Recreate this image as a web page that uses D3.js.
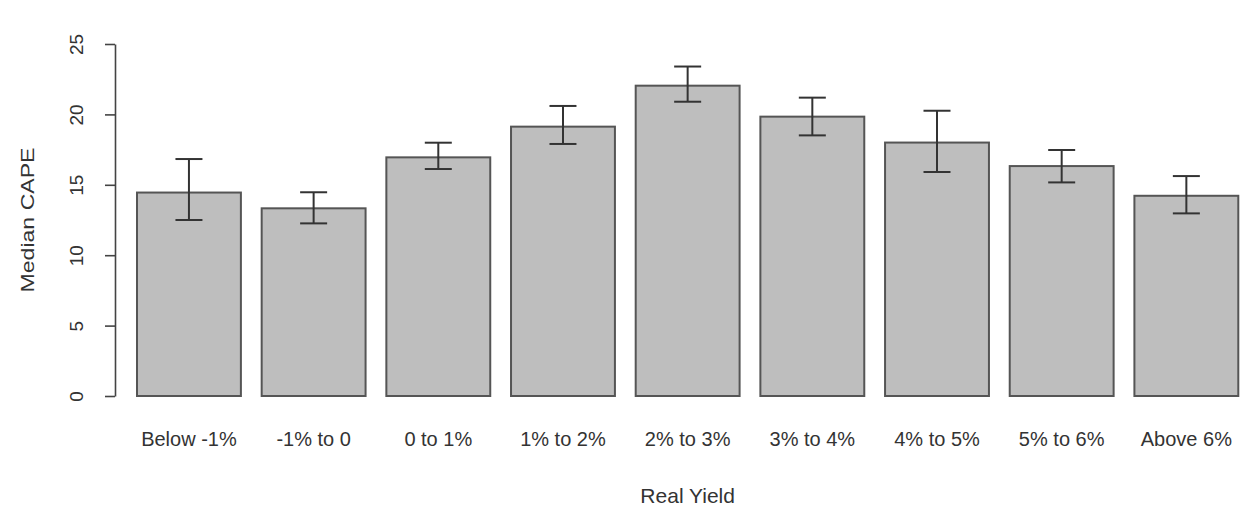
<!DOCTYPE html>
<html>
<head>
<meta charset="utf-8">
<script src="https://cdn.jsdelivr.net/npm/d3@7"></script>
<style>
  html, body { margin: 0; padding: 0; background: #fff; }
  svg { display: block; }
  text { font-family: "Liberation Sans", Arial, sans-serif; fill: #333; }
</style>
</head>
<body>
<svg id="chart" width="1251" height="516"></svg>
<script>
const categories = ["Below -1%", "-1% to 0", "0 to 1%", "1% to 2%", "2% to 3%", "3% to 4%", "4% to 5%", "5% to 6%", "Above 6%"];
const medianCape = [14.45, 13.33, 16.95, 19.13, 22.04, 19.84, 18.0, 16.33, 14.22];
const lowerBound = [12.5, 12.26, 16.12, 17.9, 20.9, 18.51, 15.91, 15.17, 12.97];
const upperBound = [16.83, 14.47, 17.99, 20.6, 23.4, 21.19, 20.26, 17.47, 15.62];
const yTicks = [0, 5, 10, 15, 20, 25];
const xTitle = "Real Yield";
const yTitle = "Median CAPE";

const svg = d3.select("#chart");

const x = d3.scaleBand()
  .domain(categories)
  .range([137, 1238.3])
  .paddingInner(0.2 / 1.2)
  .paddingOuter(0);

const y = d3.scaleLinear().domain([0, 25]).range([396, 44]);

const data = categories.map((c, i) => ({ c, v: medianCape[i], lo: lowerBound[i], hi: upperBound[i] }));

// bars
svg.append("g").selectAll("rect").data(data).join("rect")
  .attr("x", d => x(d.c))
  .attr("y", d => y(d.v))
  .attr("width", x.bandwidth())
  .attr("height", d => y(0) - y(d.v))
  .attr("fill", "#bebebe")
  .attr("stroke", "#555")
  .attr("stroke-width", 2);

// error bars
const capHalf = 13.5;
const eg = svg.append("g").attr("stroke", "#333").attr("stroke-width", 2);
data.forEach(d => {
  const cx = x(d.c) + x.bandwidth() / 2;
  eg.append("line").attr("x1", cx).attr("x2", cx).attr("y1", y(d.lo)).attr("y2", y(d.hi));
  eg.append("line").attr("x1", cx - capHalf).attr("x2", cx + capHalf).attr("y1", y(d.hi)).attr("y2", y(d.hi));
  eg.append("line").attr("x1", cx - capHalf).attr("x2", cx + capHalf).attr("y1", y(d.lo)).attr("y2", y(d.lo));
});

// y axis
const yAxis = d3.axisLeft(y).tickValues(yTicks).tickSize(10).tickSizeOuter(0).tickFormat(d3.format("d"));
const ag = svg.append("g").attr("transform", "translate(115,0)").call(yAxis);
ag.select(".domain").attr("stroke", "#444").attr("stroke-width", 1.6);
ag.selectAll(".tick line").attr("stroke", "#444").attr("stroke-width", 1.6);
ag.selectAll(".tick text")
  .attr("font-size", 19)
  .attr("fill", "#333")
  .attr("x", null).attr("dy", null)
  .attr("text-anchor", "middle")
  .attr("transform", "translate(-32,0) rotate(-90)");
ag.attr("font-family", null);

// x category labels
svg.append("g").selectAll("text").data(categories).join("text")
  .attr("x", d => x(d) + x.bandwidth() / 2)
  .attr("y", 446)
  .attr("text-anchor", "middle")
  .attr("font-size", 20)
  .text(d => d);

// axis titles
svg.append("text")
  .attr("x", (x.range()[0] + x.range()[1]) / 2)
  .attr("y", 503)
  .attr("text-anchor", "middle")
  .attr("font-size", 21)
  .text(xTitle);

svg.append("text")
  .attr("transform", `translate(33.5,${(y(0) + y(25)) / 2}) rotate(-90)`)
  .attr("text-anchor", "middle")
  .attr("font-size", 19)
  .attr("textLength", 145)
  .attr("lengthAdjust", "spacingAndGlyphs")
  .text(yTitle);
</script>
</body>
</html>
